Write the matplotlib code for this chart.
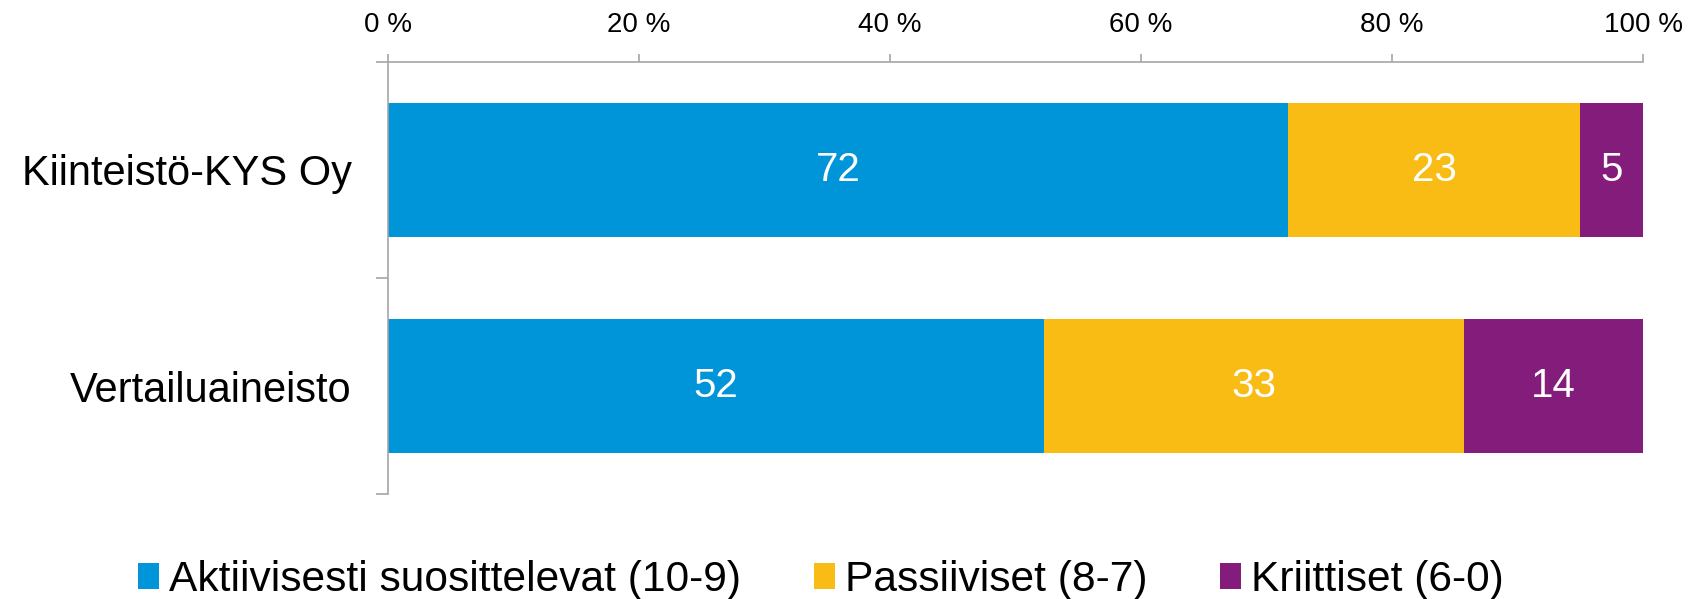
import matplotlib
matplotlib.use("Agg")
import matplotlib.pyplot as plt
from matplotlib.patches import Patch
from matplotlib import font_manager

categories = ["Kiinteistö-KYS Oy", "Vertailuaineisto"]
series_names = ["Aktiivisesti suosittelevat (10-9)", "Passiiviset (8-7)", "Kriittiset (6-0)"]
aktiiviset = [71.7, 52.3]
passiiviset = [23.3, 33.4]
kriittiset = [5.0, 14.3]
colors = ["#0094D8", "#F9BC15", "#841C7C"]
xticks = [0, 20, 40, 60, 80, 100]
xtick_labels = ["0 %", "20 %", "40 %", "60 %", "80 %", "100 %"]

names = {f.name for f in font_manager.fontManager.ttflist}
base = "Liberation Sans" if "Liberation Sans" in names else "DejaVu Sans"
plt.rcParams["font.family"] = [base, "DejaVu Sans"]

fig = plt.figure(figsize=(16.88, 5.99), dpi=100)
ax = fig.add_axes([388/1688, 1-494/599, (1643-388)/1688, (494-62)/599])

gray = "#A6A6A6"
series = [aktiiviset, passiiviset, kriittiset]
y = list(range(len(categories)))
left = [0.0] * len(categories)
for vals, col in zip(series, colors):
    bars = ax.barh(y, vals, left=left, height=0.62, color=col, edgecolor="none")
    for b, v in zip(bars, vals):
        ax.text(b.get_x() + b.get_width()/2, b.get_y() + b.get_height()/2, f"{v:.0f}",
                ha="center", va="center", color="white", fontsize=29)
    left = [l + v for l, v in zip(left, vals)]

ax.set_xlim(0, 100)
ax.set_ylim(len(categories) - 0.5, -0.5)
ax.xaxis.tick_top()
ax.set_xticks(xticks)
ax.set_xticklabels(xtick_labels, fontsize=20)
ax.tick_params(axis="x", direction="out", length=6, width=1.2, color=gray, pad=11)
ax.set_yticks(y)
ax.set_yticklabels(categories, fontsize=30)
ax.tick_params(axis="y", which="major", length=0, pad=26)
ax.set_yticks([i - 0.5 for i in range(len(categories) + 1)], minor=True)
ax.tick_params(axis="y", which="minor", direction="out", length=9, width=1.2, color=gray)
for s in ["bottom", "right"]:
    ax.spines[s].set_visible(False)
for s in ["top", "left"]:
    ax.spines[s].set_color(gray)
    ax.spines[s].set_linewidth(1.2)

handles = [Patch(facecolor=c, edgecolor="none") for c in colors]
fig.legend(handles, series_names, loc="center left", bbox_to_anchor=(138/1688, 1-580/599),
           ncol=3, frameon=False, prop={"size": 30.6},
           handlelength=0.5, handleheight=0.58, handletextpad=0.24, columnspacing=1.7,
           borderaxespad=0, borderpad=0)

fig.savefig("out.png", dpi=100)
